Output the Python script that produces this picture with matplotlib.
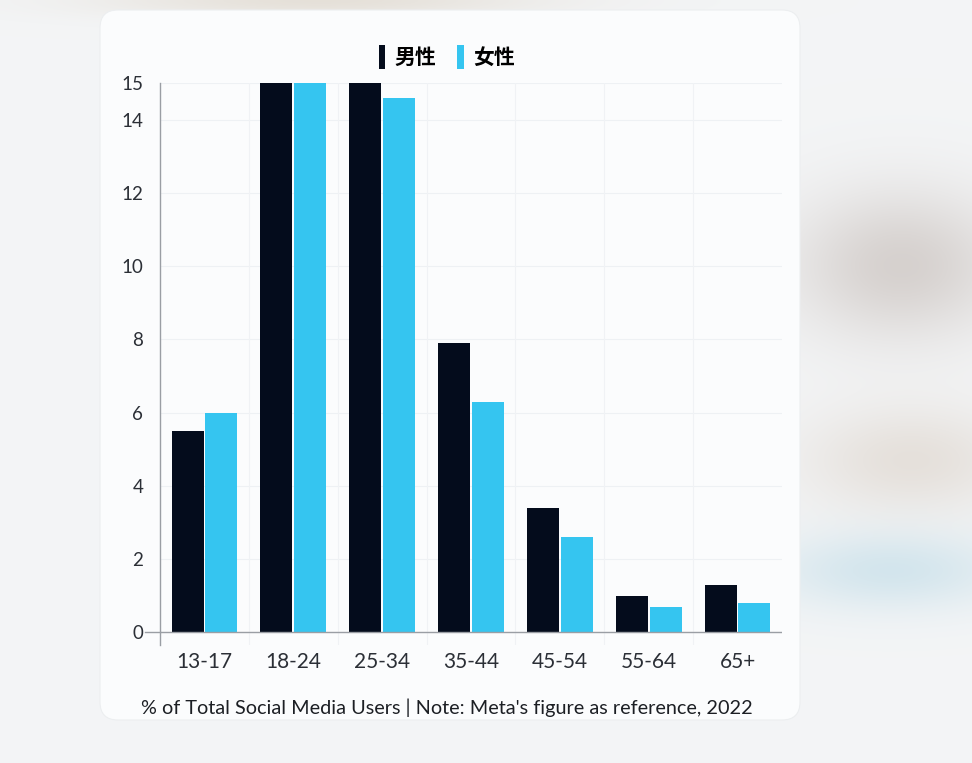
import matplotlib
matplotlib.use("Agg")
import matplotlib.pyplot as plt
from matplotlib.patches import FancyBboxPatch, Patch
import numpy as np

# Data
age_groups = ["13-17", "18-24", "25-34", "35-44", "45-54", "55-64", "65+"]
male = [5.5, 15.0, 15.0, 7.9, 3.4, 1.0, 1.3]
female = [6.0, 15.0, 14.6, 6.3, 2.6, 0.7, 0.8]
series_names = ["男性", "女性"]
y_ticks = [0, 2, 4, 6, 8, 10, 12, 14, 15]
footer = "% of Total Social Media Users | Note: Meta's figure as reference, 2022"

MALE_COLOR = "#040c1c"
FEMALE_COLOR = "#35c5f0"
TEXT_COLOR = "#2b2f36"

plt.rcParams["font.family"] = ["Lato", "Noto Sans CJK SC", "DejaVu Sans"]

W, H = 972, 763
fig = plt.figure(figsize=(W / 100, H / 100), dpi=100)

# Blurred photo-like backdrop
bg = fig.add_axes([0, 0, 1, 1])
bg.set_axis_off()
yy, xx = np.mgrid[0:H, 0:W]
img = np.ones((H, W, 3)) * np.array([0.955, 0.96, 0.965])
blobs = [
    ((900, 265), (110, 75), (0.84, 0.82, 0.81)),
    ((910, 460), (110, 55), (0.90, 0.88, 0.86)),
    ((890, 570), (120, 40), (0.83, 0.90, 0.93)),
    ((320, 0), (220, 18), (0.90, 0.88, 0.85)),
]
for (cx, cy), (sx, sy), col in blobs:
    w = np.exp(-((xx - cx) / sx) ** 2 - ((yy - cy) / sy) ** 2)[..., None]
    img = img * (1 - w) + np.array(col) * w
bg.imshow(img, extent=(0, W, H, 0), aspect="auto")
bg.set_xlim(0, W)
bg.set_ylim(H, 0)

# White card
card = FancyBboxPatch((100, 10), 700, 710, boxstyle="round,pad=0,rounding_size=18",
                      facecolor="#fbfcfd", edgecolor="#eceef0", linewidth=0.8)
bg.add_patch(card)

# Main chart
ax = fig.add_axes([160 / W, 1 - 645 / H, 622 / W, (645 - 83) / H])
ax.set_facecolor("none")
x = np.arange(len(age_groups))
bw = 0.36
ax.bar(x - 0.19, male, bw, color=MALE_COLOR, zorder=3)
ax.bar(x + 0.19, female, bw, color=FEMALE_COLOR, zorder=3)

ax.set_xlim(-0.5, len(age_groups) - 0.5)
ax.set_ylim(-0.35, 15)
ax.set_yticks(y_ticks)
ax.set_yticklabels([str(t) for t in y_ticks])
ax.set_xticks(x)
ax.set_xticklabels(age_groups)
ax.tick_params(axis="x", length=0, pad=5, labelsize=15, labelcolor=TEXT_COLOR)
ax.tick_params(axis="y", length=0, pad=12, labelsize=13.5, labelcolor=TEXT_COLOR)

for t in y_ticks:
    ax.axhline(t, color="#eef1f4", linewidth=0.8, zorder=0)
for b in np.arange(0.5, len(age_groups) - 0.5, 1.0):
    ax.axvline(b, color="#f0f2f5", linewidth=0.8, zorder=0)
ax.axhline(0, color="#9a9ea4", linewidth=1.0, zorder=4)
ax.plot([-0.67, -0.5], [0, 0], color="#9a9ea4", linewidth=1.0, clip_on=False)

for side in ["top", "right", "bottom"]:
    ax.spines[side].set_visible(False)
ax.spines["left"].set_color("#9a9ea4")
ax.spines["left"].set_linewidth(1.0)

handles = [Patch(facecolor=MALE_COLOR), Patch(facecolor=FEMALE_COLOR)]
fig.legend(handles, series_names, loc="center", bbox_to_anchor=(447 / W, 1 - 57 / H),
           ncol=2, frameon=False, handlelength=0.3, handleheight=1.4, handletextpad=0.45,
           columnspacing=1.0, prop={"family": ["Noto Sans CJK SC", "DejaVu Sans"],
                                    "weight": "bold", "size": 15})

fig.text(447 / W, 1 - 708 / H, footer, ha="center", va="center", fontsize=14.3,
         color="#1c1f24")

fig.savefig("out.png", dpi=100)
